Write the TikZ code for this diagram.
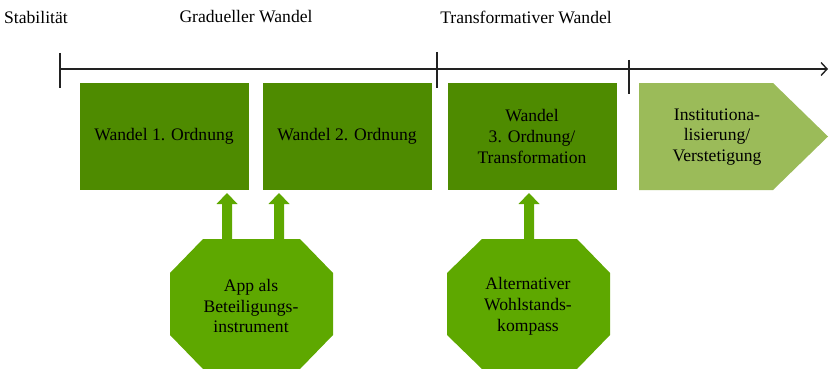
\documentclass[tikz,border=0pt]{standalone}
\usepackage{fontspec}
\setmainfont{Liberation Serif}
\usetikzlibrary{arrows.meta}
\definecolor{boxgreen}{RGB}{78,139,0}
\definecolor{octgreen}{RGB}{94,168,0}
\definecolor{lightgreen}{RGB}{155,187,89}
\definecolor{axisgray}{RGB}{34,34,34}
\begin{document}
\begin{tikzpicture}[x=1pt,y=-1pt,
  font=\fontsize{17.6}{20.8}\selectfont,
  box/.style={fill=boxgreen, minimum width=169pt, minimum height=107pt, inner sep=0pt, align=center},
  lbl/.style={inner sep=0pt, align=center},
  axisline/.style={draw=axisgray, line width=1.4pt},
  tickline/.style={draw=axisgray, line width=1.4pt},
  octagon/.style={fill=octgreen},
  uparrow/.pic={\fill[octgreen] (-5,1) -- (-5,-35) -- (-10.5,-35) -- (0,-46) -- (10.5,-35) -- (5,-35) -- (5,1) -- cycle;}
]
\useasboundingbox (0,0) rectangle (829,369);

% top labels
\node[lbl, anchor=west] (stab) at (4,17) {Stabilität};
\node[lbl] (grad) at (246,17) {Gradueller Wandel};
\node[lbl] (trans) at (526,17) {Transformativer Wandel};

% axis
\coordinate (a0) at (60,69);
\coordinate (aend) at (828,69);
\draw[axisline, -{Straight Barb[length=6pt,width=13pt,line width=1.4pt]}] (a0) -- (aend);
\coordinate (t1a) at (60,53); \coordinate (t1b) at (60,88);
\coordinate (t2a) at (437,52); \coordinate (t2b) at (437,88);
\coordinate (t3a) at (629,60); \coordinate (t3b) at (629,94);
\draw[tickline] (t1a) -- (t1b);
\draw[tickline] (t2a) -- (t2b);
\draw[tickline] (t3a) -- (t3b);

% boxes
\node[box] (b1) at (164,136.5) {Wandel 1. Ordnung};
\node[box] (b2) at (347,136.5) {Wandel 2. Ordnung};
\node[box] (b3) at (532,136.5) {Wandel\\3. Ordnung/\\Transformation};

% pentagon arrow
\fill[lightgreen] (639,83) -- (773,83) -- (828,136.5) -- (773,190) -- (639,190) -- cycle;
\node[lbl] (b4) at (717,137) {Institutiona-\\lisierung/\\Verstetigung};

% octagons
\fill[octagon] (203,239) -- (300,239) -- (333,273) -- (333,335) -- (300,369) -- (203,369) -- (170,335) -- (170,273) -- cycle;
\node[lbl] (o1) at (251,306) {App als\\Beteiligungs-\\instrument};
\fill[octagon] (482,239) -- (577,239) -- (610,273) -- (610,335) -- (577,369) -- (482,369) -- (447,335) -- (447,273) -- cycle;
\node[lbl] (o2) at (528,306) {Alternativer\\Wohlstands-\\kompass};

% block arrows
\pic at (227,239) {uparrow};
\pic at (279,239) {uparrow};
\pic at (529,239) {uparrow};
\end{tikzpicture}
\end{document}
